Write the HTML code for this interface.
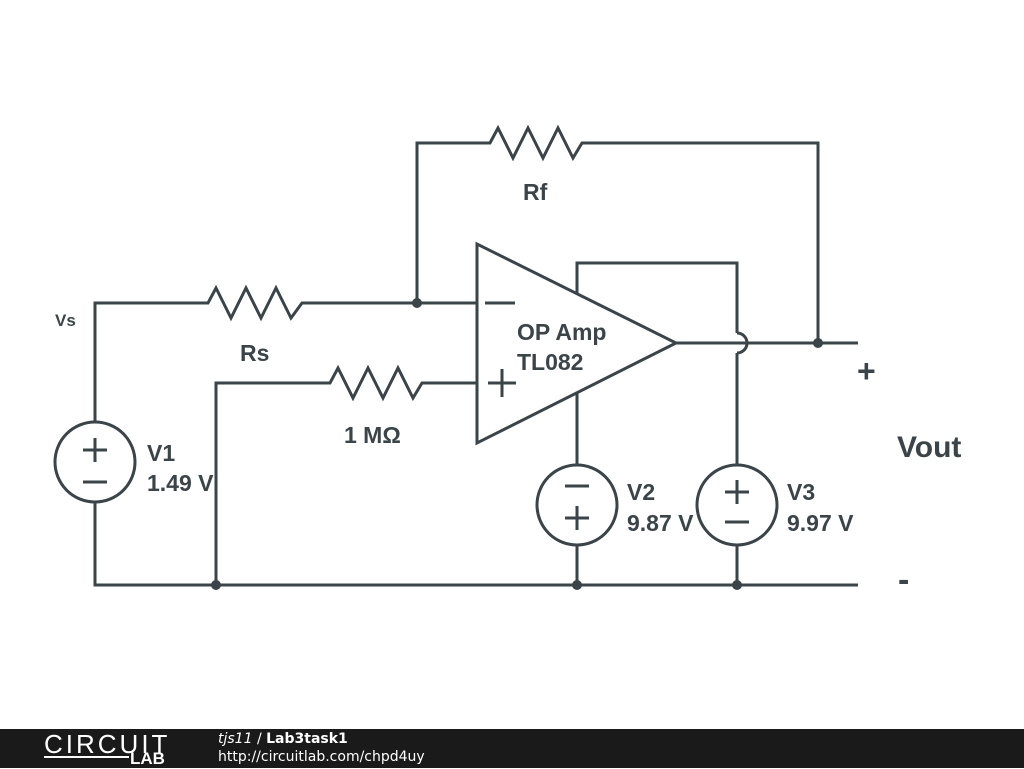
<!DOCTYPE html>
<html><head><style>
body{margin:0;width:1024px;height:768px;background:#fff;overflow:hidden;position:relative;font-family:"Liberation Sans",sans-serif}
#bar{position:absolute;left:0;top:729px;width:1024px;height:39px;background:#1a1a1a}
</style></head><body>
<svg width="1024" height="729" style="position:absolute;left:0;top:0">
<g stroke="#3a4449" stroke-width="3" fill="none" stroke-linejoin="miter">
<polyline points="417,303 417,143 490,143 498,128 513,158 528,128 543,158 558,128 573,158 582,143 818,143 818,343"/>
<polyline points="95,422 95,303 208,303 216,288 231,318 246,288 261,318 276,288 291,318 302,303 477,303"/>
<polyline points="216,585 216,383 330,383 338,368 353,398 368,368 383,398 398,368 413,398 422,383 477,383"/>
<polygon points="477,244 477,443 676,343"/>
<line x1="485" y1="303" x2="515" y2="303"/>
<line x1="488" y1="383" x2="516" y2="383"/><line x1="502" y1="369" x2="502" y2="397"/>
<polyline points="577,294 577,263 737,263 737,333"/>
<path d="M737,333 A10,10 0 0 1 737,353"/>
<line x1="737" y1="353" x2="737" y2="465"/>
<line x1="577" y1="393" x2="577" y2="465"/>
<line x1="676" y1="343" x2="858" y2="343"/>
<polyline points="95,502 95,585 858,585"/>
<line x1="577" y1="545" x2="577" y2="585"/>
<line x1="737" y1="545" x2="737" y2="585"/>
<circle cx="95" cy="462" r="40"/>
<line x1="83" y1="450" x2="107" y2="450"/><line x1="95" y1="438" x2="95" y2="462"/><line x1="83" y1="482" x2="107" y2="482"/>
<circle cx="577" cy="505" r="40"/>
<line x1="565" y1="486" x2="589" y2="486"/><line x1="565" y1="518" x2="589" y2="518"/><line x1="577" y1="506" x2="577" y2="530"/>
<circle cx="737" cy="505" r="40"/>
<line x1="725" y1="492" x2="749" y2="492"/><line x1="737" y1="480" x2="737" y2="504"/><line x1="725" y1="522" x2="749" y2="522"/>
</g>
<g fill="#3a4449">
<circle cx="417" cy="303" r="5"/><circle cx="818" cy="343" r="5"/><circle cx="216" cy="585" r="5"/><circle cx="577" cy="585" r="5"/><circle cx="737" cy="585" r="5"/>
<g font-family="Liberation Sans,sans-serif" font-weight="bold" font-size="23">
<text x="523" y="200">Rf</text>
<text x="240" y="361">Rs</text>
<text x="344" y="443">1 MΩ</text>
<text x="517" y="340">OP Amp</text>
<text x="517" y="370">TL082</text>
<text x="147" y="461">V1</text><text x="147" y="491">1.49 V</text>
<text x="627" y="500">V2</text><text x="627" y="531">9.87 V</text>
<text x="787" y="500">V3</text><text x="787" y="531">9.97 V</text>
<text x="897" y="457" font-size="30">Vout</text>
<text x="857" y="382" font-size="32">+</text>
<text x="898" y="591" font-size="34">-</text>
<text x="55" y="326" font-size="17">Vs</text>
</g></g>
</svg>
<div id="bar">
<div style="position:absolute;left:44px;top:0px;color:#fff;font-size:26px;letter-spacing:3px;font-weight:300">CIRCUIT</div>
<div style="position:absolute;left:44px;top:27px;width:85px;height:2px;background:#fff"></div>
<div style="position:absolute;left:130px;top:20px;color:#fff;font-size:17px;font-weight:bold">LAB</div>
<div style="position:absolute;left:218px;top:2px;color:#fff;font-size:14px;font-family:'DejaVu Sans',sans-serif"><i>tjs11</i> / <b>Lab3task1</b></div>
<div style="position:absolute;left:218px;top:20px;color:#fff;font-size:14px;font-family:'DejaVu Sans',sans-serif">http://circuitlab.com/chpd4uy</div>
</div>
</body></html>
